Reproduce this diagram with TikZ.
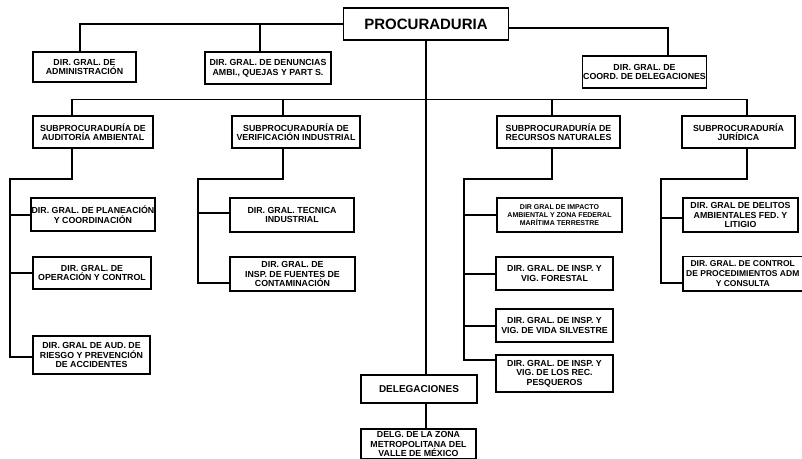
\documentclass[tikz,border=0pt]{standalone}
\usepackage{fontspec}
\setmainfont{Liberation Sans}
\begin{document}
\begin{tikzpicture}[x=1pt,y=-1pt,
  box/.style={draw, line width=1.5pt, align=center, inner sep=0.5pt,
    font=\fontsize{8.8}{9.6}\selectfont\bfseries},
  ln/.style={line width=1.5pt}]
\useasboundingbox (0,0) rectangle (802,458);
% column verticals
\coordinate (colA) at (10,0);
\coordinate (colB) at (198,0);
\coordinate (colC) at (464,0);
\coordinate (colD) at (661,0);
% top level
\node[box, minimum width=165pt, minimum height=32pt, font=\fontsize{15}{16}\selectfont\bfseries] (proc) at (426,24) {PROCURADURIA};
\node[box, minimum width=103pt, minimum height=30pt] (admin) at (84.5,67) {DIR. GRAL. DE\\ADMINISTRACIÓN};
\node[box, minimum width=126pt, minimum height=32pt] (denun) at (268,68) {DIR. GRAL. DE DENUNCIAS\\AMBI., QUEJAS Y PART S.};
\node[box, minimum width=123pt, minimum height=32pt] (coord) at (644.5,72) {DIR. GRAL. DE\\COORD. DE DELEGACIONES};
% subprocuradurias
\node[box, minimum width=120pt, minimum height=32pt] (aud) at (93,132) {SUBPROCURADURÍA DE\\AUDITORÍA AMBIENTAL};
\node[box, minimum width=128pt, minimum height=32pt] (ver) at (296,132) {SUBPROCURADURÍA DE\\VERIFICACIÓN INDUSTRIAL};
\node[box, minimum width=123pt, minimum height=32pt] (rec) at (558.5,132) {SUBPROCURADURÍA DE\\RECURSOS NATURALES};
\node[box, minimum width=113pt, minimum height=32pt] (jur) at (738.5,132) {SUBPROCURADURÍA\\JURÍDICA};
% left column
\node[box, minimum width=120pt, minimum height=33pt] (plan) at (93,214.5) {DIR. GRAL. DE PLANEACIÓN\\Y COORDINACIÓN};
\node[box, minimum width=118pt, minimum height=32pt] (oper) at (92,273) {DIR. GRAL. DE\\OPERACIÓN Y CONTROL};
\node[box, minimum width=117pt, minimum height=38pt] (ries) at (91.5,355) {DIR. GRAL DE AUD. DE\\RIESGO Y PREVENCIÓN\\DE ACCIDENTES};
% verificacion column
\node[box, minimum width=124pt, minimum height=34pt] (tec) at (292,215) {DIR. GRAL. TECNICA\\INDUSTRIAL};
\node[box, minimum width=125pt, minimum height=34pt] (cont) at (292.5,274) {DIR. GRAL. DE\\INSP. DE FUENTES DE\\CONTAMINACIÓN};
% recursos column
\node[box, minimum width=125pt, minimum height=34pt, font=\fontsize{7}{8.4}\selectfont\bfseries] (imp) at (559.5,215) {DIR GRAL DE IMPACTO\\AMBIENTAL Y ZONA FEDERAL\\MARÍTIMA TERRESTRE};
\node[box, minimum width=117pt, minimum height=33pt] (fore) at (554.5,273.5) {DIR. GRAL. DE INSP. Y\\VIG. FORESTAL};
\node[box, minimum width=117pt, minimum height=33pt] (sil) at (554.5,325.5) {DIR. GRAL. DE INSP. Y\\VIG. DE VIDA SILVESTRE};
\node[box, minimum width=117pt, minimum height=37pt] (pes) at (554.5,373.5) {DIR. GRAL. DE INSP. Y\\VIG. DE LOS REC.\\PESQUEROS};
% juridica column
\node[box, minimum width=115pt, minimum height=34pt] (deli) at (740.5,215) {DIR. GRAL DE DELITOS\\AMBIENTALES FED. Y\\LITIGIO};
\node[box, draw=none, minimum width=118pt, minimum height=33pt, anchor=west, font=\fontsize{8.5}{9.6}\selectfont\bfseries] (con) at (683,273.5) {DIR. GRAL. DE CONTROL\\DE PROCEDIMIENTOS ADM\\Y CONSULTA};
\draw[ln] ([xshift=20pt]con.north east) -- (con.north west) -- (con.south west) -- ([xshift=20pt]con.south east);
% delegaciones
\node[box, minimum width=116pt, minimum height=28pt, font=\fontsize{10}{11}\selectfont\bfseries] (dele) at (419,389) {DELEGACIONES};
\node[box, minimum width=115pt, inner ysep=2.5pt, anchor=north] (delg) at (418.5,428) {DELG. DE LA ZONA\\METROPOLITANA DEL\\VALLE DE MÉXICO};
% connectors top
\draw[ln] (proc.west) -| ([xshift=-4.5pt]admin.north);
\draw[ln] (proc.west) -| ([xshift=-8pt]denun.north);
\draw[ln] ([yshift=-4pt]proc.east) -| ([xshift=23.5pt]coord.north);
\draw[ln] (proc.south) -- (proc.south |- dele.north);
\draw[ln] (proc.south |- dele.south) -- (proc.south |- delg.north);
% main horizontal
\draw[ln] ([xshift=-21pt]aud.north) -- ++(0,-16) -| ([xshift=8.5pt]jur.north);
\draw[ln] ([xshift=-13pt]ver.north) -- ++(0,-16);
\draw[ln] ([xshift=-6.5pt]rec.north) -- ++(0,-16);
% left column
\draw[ln] ([xshift=-21pt]aud.south) -- ++(0,30) -| ([yshift=-2pt]ries.west -| colA) -- ([yshift=-2pt]ries.west);
\draw[ln] ([yshift=-0.5pt]plan.west) -- ([yshift=-0.5pt]plan.west -| colA);
\draw[ln] (oper.west) -- (oper.west -| colA);
% verificacion
\draw[ln] ([xshift=-13pt]ver.south) -- ++(0,30) -| ([yshift=-9pt]cont.west -| colB) -- ([yshift=-9pt]cont.west);
\draw[ln] ([yshift=2pt]tec.west) -- ([yshift=2pt]tec.west -| colB);
% recursos
\draw[ln] ([xshift=-6.5pt]rec.south) -- ++(0,30) -| ([yshift=13.5pt]pes.west -| colC) -- ([yshift=13.5pt]pes.west);
\draw[ln] (imp.west) -- (imp.west -| colC);
\draw[ln] ([yshift=-0.5pt]fore.west) -- ([yshift=-0.5pt]fore.west -| colC);
\draw[ln] ([yshift=-0.5pt]sil.west) -- ([yshift=-0.5pt]sil.west -| colC);
% juridica
\draw[ln] ([xshift=8.5pt]jur.south) -- ++(0,30) -| ([yshift=-9.5pt]con.west -| colD) -- ([yshift=-9.5pt]con.west);
\draw[ln] ([yshift=-3pt]deli.west) -- ([yshift=-3pt]deli.west -| colD);
\end{tikzpicture}
\end{document}
